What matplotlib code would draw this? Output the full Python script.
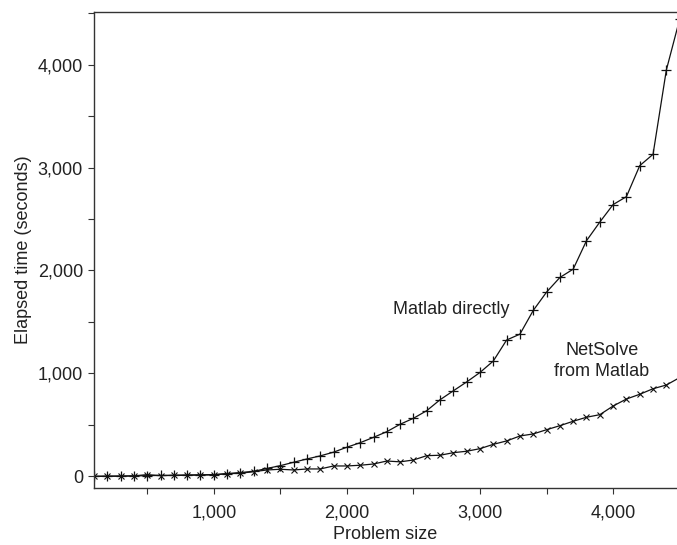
import matplotlib
matplotlib.use('Agg')
import matplotlib.pyplot as plt
from matplotlib.ticker import MultipleLocator, FuncFormatter

# problem sizes, 100 .. 4500
problem_size = [100, 200, 300, 400, 500, 600, 700, 800, 900, 1000,
                1100, 1200, 1300, 1400, 1500, 1600, 1700, 1800, 1900, 2000,
                2100, 2200, 2300, 2400, 2500, 2600, 2700, 2800, 2900, 3000,
                3100, 3200, 3300, 3400, 3500, 3600, 3700, 3800, 3900, 4000,
                4100, 4200, 4300, 4400, 4500]

# elapsed time in seconds
matlab_direct = [0, 2, 3, 5, 8, 10, 12, 14, 16, 18,
                 28, 38, 50, 78, 105, 138, 170, 200, 236, 284,
                 328, 380, 435, 507, 565, 639, 745, 832, 918, 1010,
                 1121, 1325, 1382, 1612, 1790, 1932, 2013, 2289, 2470, 2640,
                 2717, 3018, 3128, 3947, 4440]

netsolve = [2, 3, 4, 6, 18, 8, 10, 12, 14, 16,
            26, 31, 47, 63, 70, 63, 73, 73, 102, 102,
            109, 121, 150, 142, 160, 202, 206, 231, 245, 270,
            312, 345, 393, 413, 454, 493, 536, 575, 600, 684,
            752, 798, 852, 888, 960]

plt.rcParams['font.family'] = ['Liberation Sans', 'DejaVu Sans']
FS = 13
TXT = '#222222'

fig = plt.figure(figsize=(6.77, 5.45), dpi=100)
ax = fig.add_axes([94 / 677, 57 / 545, 583 / 677, 476 / 545])

ax.plot(problem_size, matlab_direct, color='#111111', lw=0.9,
        marker='+', markersize=7.5, markeredgewidth=0.9)
ax.plot(problem_size, netsolve, color='#111111', lw=0.9,
        marker='x', markersize=5, markeredgewidth=0.8)

ax.text(2785, 1617, 'Matlab directly', fontsize=FS, ha='center', va='center',
        color=TXT)
ax.text(3915, 1121, 'NetSolve\nfrom Matlab', fontsize=FS, ha='center',
        va='center', color=TXT, linespacing=1.25)

ax.set_xlim(100, 4480)
ax.set_ylim(-112, 4510)

ax.xaxis.set_major_locator(MultipleLocator(1000))
ax.xaxis.set_minor_locator(MultipleLocator(500))
ax.yaxis.set_major_locator(MultipleLocator(1000))
ax.yaxis.set_minor_locator(MultipleLocator(500))
fmt = FuncFormatter(lambda v, p: f'{int(v):,}')
ax.xaxis.set_major_formatter(fmt)
ax.yaxis.set_major_formatter(fmt)

ax.tick_params(which='both', direction='out', length=4, width=0.8,
               color='#333333', labelsize=FS, labelcolor=TXT)
ax.tick_params(axis='x', pad=8)
ax.tick_params(axis='y', pad=4)

for side in ['left', 'bottom', 'top']:
    ax.spines[side].set_color('#333333')
    ax.spines[side].set_linewidth(1.0)
ax.spines['right'].set_visible(False)

ax.set_xlabel('Problem size', fontsize=FS, color=TXT, labelpad=3)
ax.set_ylabel('Elapsed time (seconds)', fontsize=FS, color=TXT, labelpad=4)

plt.savefig('out.png', dpi=100)
